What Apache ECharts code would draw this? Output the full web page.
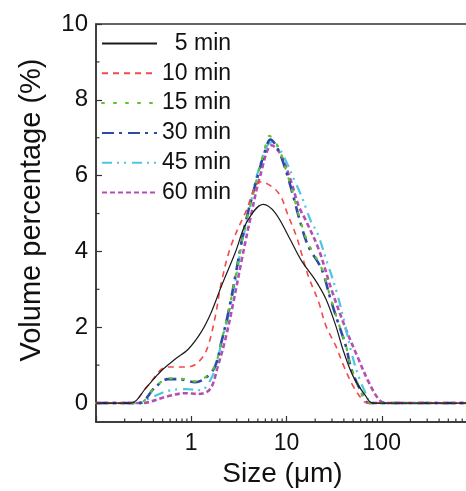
<!DOCTYPE html>
<html>
<head>
<meta charset="utf-8">
<script src="https://cdn.jsdelivr.net/npm/echarts@6/dist/echarts.min.js"></script>
<style>html,body{margin:0;padding:0;background:#fff}#c{width:466px;height:491px}</style>
</head>
<body>
<div id="c"></div>
<script>
// ---- data (size in µm, volume percentage in %) ----
const seriesNames = ['5 min', '10 min', '15 min', '30 min', '45 min', '60 min'];

const size5  = [0.1, 0.23, 0.34, 0.48, 0.68, 0.93, 1.27, 1.62, 2.07, 2.9, 3.8, 5.7, 7.6, 10.5, 14.4, 20, 26, 33, 40, 50, 68, 80, 1000];
const vol5   = [0, 0, 0.42, 0.84, 1.16, 1.42, 1.87, 2.39, 3.08, 3.97, 4.76, 5.24, 5.02, 4.4, 3.75, 3.25, 2.74, 2.03, 1.34, 0.71, 0.18, 0, 0];

const size10 = [0.1, 0.23, 0.34, 0.48, 0.57, 0.75, 1.0, 1.27, 1.5, 1.79, 2.07, 2.6, 3.7, 5.4, 8.2, 10.5, 12.7, 14, 17, 21.8, 26, 33, 40, 50, 62, 70, 1000];
const vol10  = [0, 0, 0.42, 0.88, 0.95, 0.95, 0.97, 1.16, 1.5, 2.29, 3.18, 4.13, 5.02, 5.84, 5.55, 4.92, 4.4, 4.05, 3.34, 2.66, 2.03, 1.5, 0.97, 0.45, 0.1, 0, 0];

const size15 = [0.1, 0.28, 0.42, 0.57, 0.73, 1.1, 1.44, 1.78, 2.07, 2.45, 2.9, 3.4, 4.0, 5.1, 5.9, 6.6, 8.2, 10, 11.8, 14, 17, 23.4, 29, 34, 42, 48, 60, 68, 74, 1000];
const vol15  = [0, 0, 0.42, 0.65, 0.65, 0.57, 0.7, 1.0, 1.62, 2.4, 3.3, 4.25, 5.05, 6.1, 6.7, 7.05, 6.75, 6.1, 5.5, 4.8, 4.2, 3.55, 2.78, 2.22, 1.52, 0.92, 0.33, 0.06, 0, 0];

const size30 = [0.1, 0.28, 0.42, 0.57, 0.73, 1.1, 1.44, 1.78, 2.07, 2.45, 2.9, 3.4, 4.0, 5.1, 5.7, 6.8, 8.2, 10, 11.8, 14, 17, 23.4, 29, 34, 42, 48, 60, 68, 74, 1000];
const vol30  = [0, 0, 0.42, 0.63, 0.63, 0.55, 0.68, 0.97, 1.6, 2.39, 3.34, 4.3, 5.1, 6.08, 6.5, 6.95, 6.68, 6.08, 5.45, 4.76, 4.13, 3.53, 2.74, 2.2, 1.5, 0.89, 0.32, 0.05, 0, 0];

const size45 = [0.1, 0.3, 0.35, 0.57, 0.87, 1.27, 1.5, 1.83, 2.07, 2.45, 2.9, 3.4, 4.0, 5.1, 6.9, 8.2, 10, 12, 14.4, 18.3, 21, 26, 33, 40, 48, 57, 70, 77, 1000];
const vol45  = [0, 0, 0.1, 0.32, 0.37, 0.34, 0.5, 0.97, 1.6, 2.29, 3.2, 4.2, 5.0, 6.16, 6.87, 6.75, 6.35, 5.9, 5.45, 4.76, 4.5, 3.8, 3.0, 2.2, 1.34, 0.71, 0.18, 0, 0];

const size60 = [0.1, 0.3, 0.57, 0.87, 1.18, 1.58, 1.9, 2.28, 2.77, 3.4, 4.2, 5.3, 7.0, 8.5, 11, 13.4, 15.8, 21.8, 29.6, 42, 57, 73, 93, 110, 1000];
const vol60  = [0, 0, 0.18, 0.26, 0.24, 0.37, 0.97, 1.68, 2.66, 3.8, 4.9, 6.0, 6.8, 6.6, 5.9, 5.2, 4.84, 4.05, 3.0, 1.95, 1.16, 0.55, 0.1, 0, 0];

const xLabelValues = [1, 10, 100];
const xMinorTicks = [0.2,0.3,0.4,0.5,0.6,0.7,0.8,0.9, 2,3,4,5,6,7,8,9, 20,30,40,50,60,70,80,90, 200,300,400,500,600,700,800,900];
const yMajorTicks = [0, 2, 4, 6, 8, 10];
const yMinorTicks = [1, 3, 5, 7, 9];

// ---- styles ----
const styles = [
  { color: '#1a1a1a', width: 1.2, type: 'solid' },
  { color: '#f24a4a', width: 1.6, type: [6, 5] },
  { color: '#5cc22e', width: 2.2, type: [2, 10], cap: 'round' },
  { color: '#2f49a8', width: 2.6, type: [12, 5, 3, 6] },
  { color: '#4dc6e0', width: 2.2, type: [10, 5, 2, 5, 2, 6] },
  { color: '#b54db5', width: 2.6, type: [5, 3] }
];
const sizes = [size5, size10, size15, size30, size45, size60];
const vols = [vol5, vol10, vol15, vol30, vol45, vol60];

const FONT = 'Liberation Sans, Arial, sans-serif';

const lineSeries = seriesNames.map((name, i) => ({
  name: name,
  type: 'line',
  data: sizes[i].map((x, j) => [x, vols[i][j]]),
  smooth: 0.35,
  symbol: 'none',
  showSymbol: false,
  z: 3 + (5 - i),
  lineStyle: { color: styles[i].color, width: styles[i].width, type: styles[i].type, cap: styles[i].cap || 'butt' },
  itemStyle: { color: styles[i].color, opacity: 0 }
}));

function tickSeries(values, horizontal, len) {
  return {
    type: 'custom',
    silent: true,
    clip: false,
    coordinateSystem: 'cartesian2d',
    data: values.map(v => horizontal ? [0.1, v] : [v, -0.5]),
    renderItem: function (params, api) {
      const p = api.coord([api.value(0), api.value(1)]);
      const shape = horizontal
        ? { x1: p[0], y1: p[1], x2: p[0] + len, y2: p[1] }
        : { x1: p[0], y1: p[1], x2: p[0], y2: p[1] - len };
      return { type: 'line', shape: shape, style: { stroke: '#333', lineWidth: 1.2 } };
    },
    z: 10
  };
}

const chart = echarts.init(document.getElementById('c'));
chart.setOption({
  animation: false,
  backgroundColor: '#fff',
  textStyle: { fontFamily: FONT },
  grid: { left: 96, top: 24, right: -11, bottom: 69, outerBoundsMode: 'none', containLabel: false, show: true, borderColor: '#333', borderWidth: 1.5, backgroundColor: 'transparent' },
  legend: {
    data: seriesNames,
    left: 101, top: 32,
    orient: 'vertical',
    padding: 0,
    itemWidth: 55, itemHeight: 23, itemGap: 6.8,
    itemStyle: { opacity: 0 },
    textStyle: { fontSize: 23, color: '#111', fontFamily: FONT },
    formatter: function (n) { return n === '5 min' ? '\u2007' + n : n; }
  },
  xAxis: {
    type: 'log', logBase: 10, min: 0.1, max: 1000,
    name: 'Size (\u03bcm)', nameLocation: 'middle', nameGap: 37,
    nameTextStyle: { fontSize: 28, color: '#111', fontFamily: FONT, padding: [0, 8, 0, 0] },
    axisLine: { show: true, onZero: false, lineStyle: { color: '#333', width: 1.5 } },
    axisTick: { show: true, inside: true, length: 6, lineStyle: { color: '#333', width: 1.2 } },
    splitLine: { show: false },
    minorTick: { show: false },
    axisLabel: {
      fontSize: 23, color: '#111', margin: 10, fontFamily: FONT,
      formatter: function (v) {
        const r = Math.round(v);
        return (xLabelValues.indexOf(r) >= 0 && Math.abs(v - r) < 1e-6) ? String(r) : '';
      }
    }
  },
  yAxis: {
    type: 'value', min: -0.5, max: 10,
    name: 'Volume percentage (%)', nameLocation: 'middle', nameGap: 50, nameRotate: 90,
    nameTextStyle: { fontSize: 29, color: '#111', fontFamily: FONT, padding: [0, 0, 0, 26] },
    axisLine: { show: true, onZero: false, lineStyle: { color: '#333', width: 1.5 } },
    axisTick: { show: true, inside: true, length: 6, customValues: yMajorTicks, lineStyle: { color: '#333', width: 1.2 } },
    splitLine: { show: false },
    axisLabel: { fontSize: 24, color: '#111', margin: 8, customValues: yMajorTicks, fontFamily: FONT }
  },
  series: lineSeries.concat([
    tickSeries(xMinorTicks, false, 3.5),
    tickSeries(yMinorTicks, true, 3.5)
  ])
});
</script>
</body>
</html>
